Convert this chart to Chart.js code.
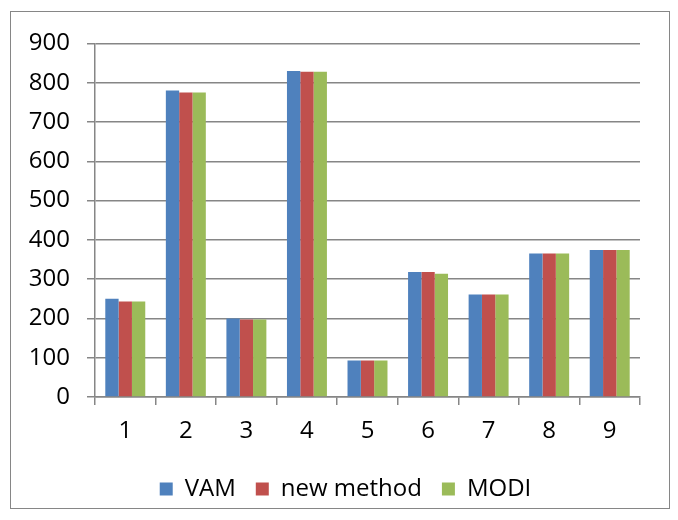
<!DOCTYPE html>
<html>
<head>
<meta charset="utf-8">
<script src="https://cdn.jsdelivr.net/npm/chart.js@4"></script>
<style>
  body { margin: 0; background: #fff; }
  #box {
    position: absolute; left: 10px; top: 11px;
    width: 658px; height: 496px;
    border: 1px solid #868686;
  }
</style>
</head>
<body>
<div id="box"><canvas id="chart" width="658" height="496"></canvas></div>
<script>
const categories = ["1", "2", "3", "4", "5", "6", "7", "8", "9"];
const vam = [250, 780, 200, 830, 93, 318, 261, 365, 374];
const newMethod = [243, 775, 197, 828, 93, 318, 261, 365, 374];
const modi = [243, 775, 197, 828, 93, 314, 261, 365, 374];

const gridColor = "#868686";
const font = { family: "Open Sans", size: 24 };

// legend sits a bit right of centre in the original
const legendShift = {
  id: "legendShift",
  afterLayout(chart) {
    chart.legend.left += 20;
    chart.legend.right += 20;
  }
};

const ctx = document.getElementById("chart");

new Chart(ctx, {
  type: "bar",
  data: {
    labels: categories,
    datasets: [
      { label: "VAM", data: vam, backgroundColor: "#4F81BD" },
      { label: "new method", data: newMethod, backgroundColor: "#C0504D" },
      { label: "MODI", data: modi, backgroundColor: "#9BBB59" }
    ]
  },
  plugins: [legendShift],
  options: {
    responsive: false,
    animation: false,
    layout: { padding: { top: 26.5, right: 29, left: 0, bottom: -3 } },
    datasets: { bar: { categoryPercentage: 0.66, barPercentage: 1 } },
    plugins: {
      tooltip: { enabled: false },
      legend: {
        position: "bottom",
        labels: { font: font, color: "#000", boxWidth: 13, boxHeight: 13, padding: 20 }
      }
    },
    scales: {
      x: {
        afterFit: (s) => { s.height = 60; },
        grid: { drawOnChartArea: false, tickLength: 8, color: gridColor, lineWidth: 1.5 },
        border: { color: gridColor, width: 1.5 },
        ticks: { font: font, color: "#000", padding: 12 }
      },
      y: {
        min: 0, max: 900,
        afterFit: (s) => { s.width = 84; },
        grid: { tickLength: 8, color: gridColor, lineWidth: 1.5 },
        border: { color: gridColor, width: 1.5 },
        ticks: { stepSize: 100, font: font, color: "#000", padding: 17 }
      }
    }
  }
});
</script>
</body>
</html>
